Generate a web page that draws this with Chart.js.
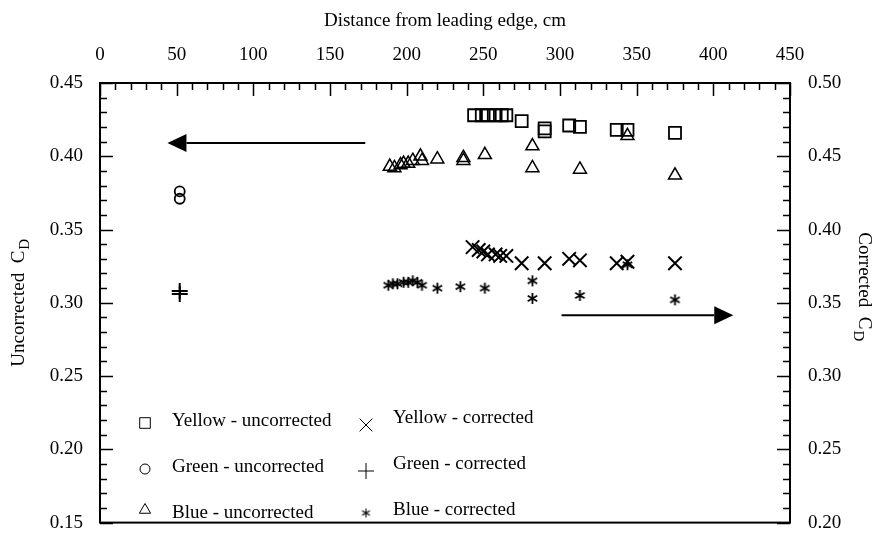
<!DOCTYPE html>
<html>
<head>
<meta charset="utf-8">
<script src="https://cdn.jsdelivr.net/npm/chart.js@4.4.1/dist/chart.umd.min.js"></script>
<style>
  html, body { margin: 0; padding: 0; background: #fff; }
  canvas { display: block; }
</style>
</head>
<body>
<canvas id="cdChart" width="881" height="552"></canvas>
<script>
// 데이터: 선단으로부터의 거리(cm)와 항력계수
const xTicks = [0, 50, 100, 150, 200, 250, 300, 350, 400, 450];
const leftTicks = [0.15, 0.20, 0.25, 0.30, 0.35, 0.40, 0.45];
const rightTicks = [0.20, 0.25, 0.30, 0.35, 0.40, 0.45, 0.50];

// Yellow - uncorrected (left axis)
const yellowUncX = [244, 249, 253, 258, 262, 265, 275, 290, 290, 306, 313, 337, 344, 375];
const yellowUncY = [0.428, 0.428, 0.428, 0.428, 0.428, 0.428, 0.424, 0.419, 0.417, 0.421, 0.420, 0.418, 0.418, 0.416];

// Green - uncorrected (left axis)
const greenUncX = [52, 52];
const greenUncY = [0.371, 0.376];

// Blue - uncorrected (left axis)
const blueUncX = [189, 192, 196, 198, 201, 204, 209, 210, 220, 237, 237, 251, 282, 282, 313, 344, 375];
const blueUncY = [0.393, 0.392, 0.394, 0.395, 0.395, 0.397, 0.400, 0.397, 0.398, 0.399, 0.397, 0.401, 0.407, 0.392, 0.391, 0.414, 0.387];

// Yellow - corrected (right axis)
const yellowCorX = [243, 247, 250, 253, 258, 261, 265, 275, 290, 306, 313, 337, 344, 375];
const yellowCorY = [0.388, 0.386, 0.385, 0.383, 0.383, 0.382, 0.382, 0.377, 0.377, 0.380, 0.379, 0.377, 0.378, 0.377];

// Green - corrected (right axis)
const greenCorX = [52, 52];
const greenCorY = [0.356, 0.358];

// Blue - corrected (right axis)
const blueCorX = [188, 191, 194, 198, 201, 204, 207, 210, 220, 235, 251, 282, 282, 313, 344, 375];
const blueCorY = [0.362, 0.363, 0.363, 0.364, 0.364, 0.365, 0.364, 0.362, 0.360, 0.361, 0.360, 0.365, 0.353, 0.355, 0.376, 0.352];

// 화살표 (x, y 는 왼쪽 축 기준 데이터 단위)
const arrowLeft = { from: [173, 0.409], to: [44, 0.409] };
const arrowRight = { from: [301, 0.2915], to: [413, 0.2915] };

const FONT = 'Liberation Serif, Times New Roman, serif';

/**
 * '*' 모양 점 스타일을 캔버스로 생성
 */
function makeAsterisk(size, lw) {
    const c = document.createElement('canvas');
    c.width = size;
    c.height = size;
    const g = c.getContext('2d');
    g.strokeStyle = '#000';
    g.lineWidth = lw;
    const r = size / 2 - 1;
    const m = size / 2;
    g.beginPath();
    for (let i = 0; i < 3; i++) {
        const a = Math.PI / 2 + i * Math.PI / 3;
        g.moveTo(m + Math.cos(a) * r, m + Math.sin(a) * r);
        g.lineTo(m - Math.cos(a) * r, m - Math.sin(a) * r);
    }
    g.stroke();
    return c;
}

const starData = makeAsterisk(13, 1.8);
const starLegend = makeAsterisk(11, 1.1);

function pts(xs, ys) {
    return xs.map((x, i) => ({ x: x, y: ys[i] }));
}

function series(label, xs, ys, style, radius, bw, axis) {
    return {
        label: label,
        data: pts(xs, ys),
        yAxisID: axis,
        showLine: false,
        pointStyle: style,
        pointRadius: radius,
        pointHoverRadius: radius,
        pointBorderWidth: bw,
        pointBorderColor: '#000',
        pointBackgroundColor: 'rgba(0,0,0,0)'
    };
}

const datasets = [
    series('Yellow - uncorrected', yellowUncX, yellowUncY, 'rect', 8.5, 1.8, 'y'),
    series('Green - uncorrected', greenUncX, greenUncY, 'circle', 5, 1.8, 'y'),
    series('Blue - uncorrected', blueUncX, blueUncY, 'triangle', 7.5, 1.5, 'y'),
    series('Yellow - corrected', yellowCorX, yellowCorY, 'crossRot', 9.5, 2, 'y2'),
    series('Green - corrected', greenCorX, greenCorY, 'cross', 8, 2, 'y2'),
    series('Blue - corrected', blueCorX, blueCorY, starData, 6.5, 1, 'y2')
];

// 범례 (그래프 내부 2열)
const legendItems = [
    { text: 'Yellow - uncorrected', style: 'rect', r: 7.5, x: 145, y: 423, ty: 421 },
    { text: 'Green - uncorrected', style: 'circle', r: 5, x: 145, y: 469, ty: 467 },
    { text: 'Blue - uncorrected', style: 'triangle', r: 6.5, x: 145, y: 510, ty: 513 },
    { text: 'Yellow - corrected', style: 'crossRot', r: 9, x: 366, y: 425, ty: 418 },
    { text: 'Green - corrected', style: 'cross', r: 8, x: 366, y: 471, ty: 464 },
    { text: 'Blue - corrected', style: starLegend, r: 5, x: 366, y: 513, ty: 510 }
];

function drawArrow(ctx, x1, y1, x2, y2) {
    const dir = Math.sign(x2 - x1);
    const headLen = 19;
    const headHalf = 9;
    ctx.beginPath();
    ctx.moveTo(x1, y1);
    ctx.lineTo(x2 - dir * headLen, y2);
    ctx.lineWidth = 2;
    ctx.stroke();
    ctx.beginPath();
    ctx.moveTo(x2, y2);
    ctx.lineTo(x2 - dir * headLen, y2 - headHalf);
    ctx.lineTo(x2 - dir * headLen, y2 + headHalf);
    ctx.closePath();
    ctx.fill();
}

function drawSubTitle(ctx, main, sub, x, y, rot) {
    ctx.save();
    ctx.translate(x, y);
    ctx.rotate(rot);
    ctx.fillStyle = '#000';
    ctx.textBaseline = 'middle';
    ctx.textAlign = 'left';
    ctx.font = '19px ' + FONT;
    const w1 = ctx.measureText(main).width;
    ctx.font = '15px ' + FONT;
    const w2 = ctx.measureText(sub).width;
    const start = -(w1 + w2 + 1) / 2;
    ctx.font = '19px ' + FONT;
    ctx.fillText(main, start, 0);
    ctx.font = '15px ' + FONT;
    ctx.fillText(sub, start + w1 + 1, 6);
    ctx.restore();
}

const framePlugin = {
    id: 'framePlugin',
    afterDatasetsDraw(chart) {
        const ctx = chart.ctx;
        const a = chart.chartArea;
        const xs = chart.scales.x;
        const yl = chart.scales.y;
        const yr = chart.scales.y2;
        ctx.save();
        ctx.strokeStyle = '#000';
        ctx.fillStyle = '#000';

        // 테두리
        ctx.lineWidth = 2;
        ctx.strokeRect(a.left, a.top, a.right - a.left, a.bottom - a.top);

        // 안쪽 눈금 (위쪽 x축)
        ctx.lineWidth = 1.5;
        ctx.beginPath();
        for (let v = 0; v <= 450; v += 10) {
            const px = Math.round(xs.getPixelForValue(v)) + 0.5;
            const len = v % 50 === 0 ? 13 : 7;
            ctx.moveTo(px, a.top);
            ctx.lineTo(px, a.top + len);
        }
        // 왼쪽 y축
        for (let i = 0; i <= 30; i++) {
            const v = 0.15 + i * 0.01;
            const py = Math.round(yl.getPixelForValue(v)) + 0.5;
            const len = i % 5 === 0 ? 13 : 7;
            ctx.moveTo(a.left, py);
            ctx.lineTo(a.left + len, py);
        }
        // 오른쪽 y축
        for (let i = 0; i <= 30; i++) {
            const v = 0.20 + i * 0.01;
            const py = Math.round(yr.getPixelForValue(v)) + 0.5;
            const len = i % 5 === 0 ? 13 : 7;
            ctx.moveTo(a.right, py);
            ctx.lineTo(a.right - len, py);
        }
        ctx.stroke();

        // 화살표
        drawArrow(ctx,
            xs.getPixelForValue(arrowLeft.from[0]), yl.getPixelForValue(arrowLeft.from[1]),
            xs.getPixelForValue(arrowLeft.to[0]), yl.getPixelForValue(arrowLeft.to[1]));
        drawArrow(ctx,
            xs.getPixelForValue(arrowRight.from[0]), yl.getPixelForValue(arrowRight.from[1]),
            xs.getPixelForValue(arrowRight.to[0]), yl.getPixelForValue(arrowRight.to[1]));

        // 범례
        ctx.font = '19px ' + FONT;
        ctx.textBaseline = 'middle';
        ctx.textAlign = 'left';
        legendItems.forEach(item => {
            ctx.lineWidth = 1;
            ctx.fillStyle = 'rgba(0,0,0,0)';
            Chart.helpers.drawPoint(ctx, { pointStyle: item.style, radius: item.r, rotation: 0, borderWidth: 1 }, item.x, item.y);
            ctx.fillStyle = '#000';
            ctx.fillText(item.text, item.x + 27, item.ty);
        });

        // y축 제목 (아래첨자 D)
        const mid = (a.top + a.bottom) / 2;
        drawSubTitle(ctx, 'Uncorrected  C', 'D', 19, mid, -Math.PI / 2);
        drawSubTitle(ctx, 'Corrected  C', 'D', 864, mid - 16, Math.PI / 2);
        ctx.restore();
    }
};

new Chart(document.getElementById('cdChart'), {
    type: 'scatter',
    data: { datasets: datasets },
    plugins: [framePlugin],
    options: {
        responsive: false,
        animation: false,
        events: [],
        layout: { padding: { top: 0, bottom: 9, left: 0, right: 0 } },
        plugins: {
            legend: { display: false },
            tooltip: { enabled: false }
        },
        scales: {
            x: {
                type: 'linear',
                position: 'top',
                min: 0,
                max: 450,
                afterBuildTicks: s => { s.ticks = xTicks.map(v => ({ value: v })); },
                afterFit: s => { s.height = 83; },
                grid: { display: false, drawTicks: false },
                border: { display: false },
                ticks: { color: '#000', font: { family: FONT, size: 19 }, padding: 17, maxRotation: 0 },
                title: {
                    display: true,
                    text: 'Distance from leading edge, cm',
                    color: '#000',
                    font: { family: FONT, size: 19 },
                    padding: { top: 10, bottom: 0 }
                }
            },
            y: {
                type: 'linear',
                position: 'left',
                min: 0.15,
                max: 0.45,
                afterBuildTicks: s => { s.ticks = leftTicks.map(v => ({ value: v })); },
                afterFit: s => { s.width = 100; },
                grid: { display: false, drawTicks: false },
                border: { display: false },
                ticks: { color: '#000', font: { family: FONT, size: 19 }, padding: 17, callback: v => v.toFixed(2) }
            },
            y2: {
                type: 'linear',
                position: 'right',
                min: 0.20,
                max: 0.50,
                afterBuildTicks: s => { s.ticks = rightTicks.map(v => ({ value: v })); },
                afterFit: s => { s.width = 91; },
                grid: { display: false, drawTicks: false },
                border: { display: false },
                ticks: { color: '#000', font: { family: FONT, size: 19 }, padding: 18, callback: v => v.toFixed(2) }
            }
        }
    }
});
</script>
</body>
</html>
